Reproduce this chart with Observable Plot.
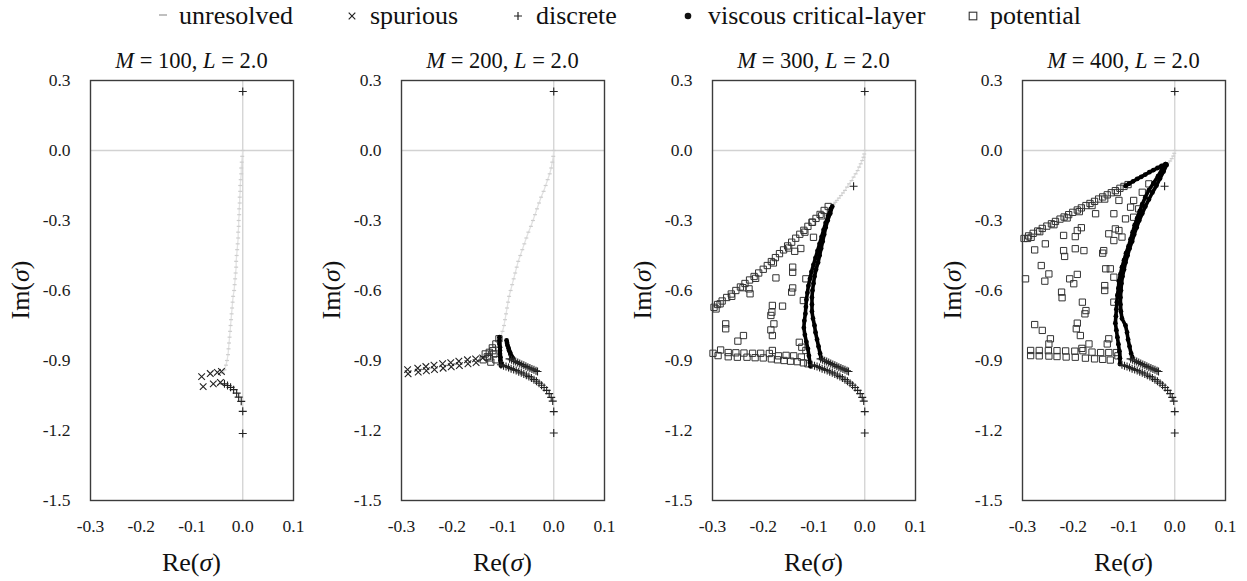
<!DOCTYPE html>
<html><head><meta charset="utf-8">
<script src="https://cdn.jsdelivr.net/npm/d3@7"></script>
<script src="https://cdn.jsdelivr.net/npm/@observablehq/plot@0.6"></script>
<style>
body{margin:0;background:#fff;font-family:"Liberation Serif","Times New Roman",serif;}
#root{position:relative;width:1247px;height:581px;overflow:hidden;background:#fff;}
.legtext{position:absolute;top:1px;font-family:"Liberation Serif","Times New Roman",serif;font-size:26px;line-height:29px;color:#111;white-space:nowrap;}
.legmark{position:absolute;top:9px;width:14px;height:14px;overflow:visible;}
</style></head><body><div id="root"></div><script>
// ---------- data ----------
const Mvalues = [100, 200, 300, 400];
const Lvalue = "2.0";
const xTicks = [-0.3, -0.2, -0.1, 0, 0.1];
const yTicks = [0.3, 0, -0.3, -0.6, -0.9, -1.2, -1.5];
const legendLabels = ["unresolved", "spurious", "discrete", "viscous critical-layer", "potential"];

// M = 100
const unresolved100 = [[0,0],[-0.001,-0.025],[-0.002,-0.05],[-0.003,-0.075],[-0.003,-0.1],[-0.004,-0.125],[-0.005,-0.15],[-0.005,-0.175],[-0.006,-0.2],[-0.006,-0.225],[-0.007,-0.25],[-0.007,-0.275],[-0.008,-0.3],[-0.008,-0.325],[-0.009,-0.35],[-0.009,-0.375],[-0.010,-0.4],[-0.011,-0.425],[-0.012,-0.45],[-0.013,-0.475],[-0.013,-0.5],[-0.014,-0.525],[-0.015,-0.55],[-0.016,-0.575],[-0.017,-0.6],[-0.019,-0.625],[-0.020,-0.65],[-0.021,-0.675],[-0.022,-0.7],[-0.023,-0.725],[-0.024,-0.75],[-0.025,-0.775],[-0.026,-0.8],[-0.027,-0.825],[-0.028,-0.85],[-0.029,-0.875],[-0.031,-0.9],[-0.033,-0.92],[-0.036,-0.94],[-0.039,-0.955]];
const spurious100 = [[-0.081,-0.969],[-0.064,-0.956],[-0.050,-0.951],[-0.042,-0.947],[-0.078,-1.012],[-0.058,-1.000],[-0.044,-0.994]];
const discrete100 = [[0,0.253],[-0.036,-1.000],[-0.030,-1.007],[-0.024,-1.015],[-0.018,-1.025],[-0.012,-1.040],[-0.008,-1.057],[-0.003,-1.075],[0,-1.118],[0,-1.213]];

// discrete branches common to M = 200, 300, 400
const discreteUpper = [[-0.087,-0.893],[-0.083,-0.897],[-0.079,-0.901],[-0.075,-0.904],[-0.071,-0.909],[-0.067,-0.913],[-0.063,-0.917],[-0.059,-0.920],[-0.055,-0.925],[-0.051,-0.929],[-0.047,-0.932],[-0.043,-0.936],[-0.039,-0.940],[-0.035,-0.944],[-0.032,-0.947]];
const discreteLower = [[0,0.253],[-0.104,-0.918],[-0.099,-0.922],[-0.094,-0.926],[-0.089,-0.930],[-0.084,-0.935],[-0.079,-0.939],[-0.074,-0.943],[-0.069,-0.948],[-0.064,-0.953],[-0.059,-0.958],[-0.054,-0.963],[-0.049,-0.969],[-0.044,-0.975],[-0.039,-0.982],[-0.034,-0.989],[-0.029,-0.997],[-0.024,-1.006],[-0.019,-1.016],[-0.014,-1.028],[-0.009,-1.042],[-0.005,-1.058],[-0.002,-1.074],[0,-1.119],[0,-1.211]];

// M = 200
const unresolved200 = [[0,0],[-0.001,-0.025],[-0.003,-0.05],[-0.005,-0.075],[-0.008,-0.1],[-0.012,-0.125],[-0.016,-0.15],[-0.020,-0.175],[-0.025,-0.2],[-0.029,-0.225],[-0.033,-0.25],[-0.037,-0.275],[-0.041,-0.3],[-0.045,-0.325],[-0.050,-0.35],[-0.054,-0.375],[-0.058,-0.4],[-0.062,-0.425],[-0.066,-0.45],[-0.070,-0.475],[-0.073,-0.5],[-0.076,-0.525],[-0.079,-0.55],[-0.082,-0.575],[-0.085,-0.6],[-0.088,-0.625],[-0.090,-0.65],[-0.092,-0.675],[-0.094,-0.7],[-0.096,-0.725],[-0.098,-0.75],[-0.101,-0.775],[-0.105,-0.8]];
const spurious200 = [[-0.288,-0.939],[-0.268,-0.933],[-0.252,-0.926],[-0.236,-0.920],[-0.219,-0.914],[-0.203,-0.909],[-0.187,-0.903],[-0.170,-0.897],[-0.154,-0.893],[-0.140,-0.889],[-0.287,-0.957],[-0.267,-0.950],[-0.251,-0.944],[-0.235,-0.939],[-0.218,-0.933],[-0.202,-0.927],[-0.186,-0.922],[-0.169,-0.914],[-0.153,-0.909]];
const potential200 = [[-0.108,-0.807],[-0.114,-0.829],[-0.121,-0.846],[-0.127,-0.865],[-0.135,-0.872],[-0.118,-0.872],[-0.139,-0.897],[-0.127,-0.889],[-0.124,-0.907],[-0.114,-0.897],[-0.131,-0.884],[-0.120,-0.858]];
const viscous200a = [[-0.107,-0.800],[-0.107,-0.814],[-0.107,-0.829],[-0.106,-0.843],[-0.106,-0.857],[-0.106,-0.872],[-0.105,-0.886],[-0.105,-0.900],[-0.104,-0.914],[-0.104,-0.922]];
const viscous200b = [[-0.093,-0.814],[-0.092,-0.825],[-0.091,-0.836],[-0.089,-0.847],[-0.088,-0.857],[-0.086,-0.866],[-0.085,-0.874],[-0.083,-0.882],[-0.081,-0.889]];

// M = 300
const unresolved300 = [[0,0],[-0.001,-0.015],[-0.0025,-0.029],[-0.005,-0.043],[-0.008,-0.057],[-0.011,-0.071],[-0.014,-0.086],[-0.018,-0.100],[-0.022,-0.114],[-0.026,-0.129],[-0.031,-0.143],[-0.035,-0.157],[-0.039,-0.171],[-0.043,-0.182],[-0.047,-0.193],[-0.051,-0.204],[-0.055,-0.214],[-0.058,-0.222],[-0.061,-0.229]];
const discreteExtra300 = [[-0.022,-0.153]];
const viscous300a = [[-0.064,-0.24],[-0.068,-0.27],[-0.073,-0.30],[-0.077,-0.33],[-0.080,-0.36],[-0.083,-0.39],[-0.086,-0.42],[-0.089,-0.45],[-0.092,-0.48],[-0.096,-0.51],[-0.099,-0.54],[-0.101,-0.57],[-0.103,-0.60],[-0.104,-0.63],[-0.104,-0.66],[-0.104,-0.69],[-0.102,-0.72],[-0.099,-0.75],[-0.097,-0.78],[-0.094,-0.81],[-0.091,-0.84],[-0.088,-0.87],[-0.086,-0.89]];
const viscous300b = [[-0.067,-0.25],[-0.072,-0.28],[-0.077,-0.31],[-0.081,-0.34],[-0.085,-0.37],[-0.089,-0.40],[-0.093,-0.43],[-0.097,-0.46],[-0.101,-0.49],[-0.105,-0.52],[-0.108,-0.55],[-0.111,-0.58],[-0.113,-0.61],[-0.115,-0.64],[-0.116,-0.67],[-0.117,-0.70],[-0.119,-0.73],[-0.120,-0.76],[-0.118,-0.79],[-0.115,-0.82],[-0.112,-0.85],[-0.110,-0.88],[-0.108,-0.91],[-0.107,-0.925]];
const potential300 = [
 [-0.072,-0.240],[-0.080,-0.257],[-0.088,-0.274],[-0.096,-0.291],[-0.104,-0.308],[-0.112,-0.325],[-0.120,-0.342],[-0.128,-0.359],[-0.136,-0.376],[-0.144,-0.393],[-0.152,-0.409],[-0.160,-0.426],[-0.168,-0.442],[-0.176,-0.459],[-0.184,-0.476],[-0.192,-0.493],[-0.200,-0.509],[-0.209,-0.525],[-0.218,-0.540],[-0.227,-0.555],[-0.236,-0.570],[-0.245,-0.585],[-0.254,-0.600],[-0.263,-0.615],[-0.272,-0.630],[-0.281,-0.645],[-0.290,-0.660],[-0.297,-0.672],
 [-0.085,-0.280],[-0.118,-0.350],[-0.150,-0.418],[-0.180,-0.482],[-0.215,-0.548],[-0.240,-0.588],[-0.262,-0.625],[-0.293,-0.679],[-0.285,-0.657],
 [-0.103,-0.307],[-0.101,-0.372],[-0.126,-0.420],[-0.138,-0.432],[-0.142,-0.500],[-0.142,-0.522],[-0.175,-0.546],[-0.116,-0.550],[-0.142,-0.589],[-0.144,-0.607],[-0.228,-0.593],[-0.226,-0.614],[-0.121,-0.643],[-0.182,-0.664],[-0.162,-0.667],[-0.183,-0.693],[-0.185,-0.707],[-0.274,-0.743],[-0.274,-0.764],[-0.179,-0.743],[-0.185,-0.769],[-0.182,-0.793],[-0.239,-0.793],[-0.250,-0.817],[-0.129,-0.822],[-0.124,-0.843],[-0.116,-0.857],
 [-0.299,-0.869],[-0.284,-0.855],[-0.269,-0.866],[-0.254,-0.867],[-0.238,-0.868],[-0.221,-0.869],[-0.205,-0.869],[-0.188,-0.870],[-0.182,-0.857],
 [-0.289,-0.879],[-0.269,-0.884],[-0.251,-0.886],[-0.232,-0.886],[-0.216,-0.888],[-0.200,-0.889],[-0.184,-0.893],[-0.172,-0.897],[-0.159,-0.900],[-0.146,-0.903],[-0.133,-0.905],[-0.121,-0.910],[-0.112,-0.914],
 [-0.170,-0.880],[-0.155,-0.878],[-0.140,-0.880],[-0.125,-0.885]
];

// M = 400
const unresolved400 = [[0,0],[-0.001,-0.012],[-0.003,-0.024],[-0.006,-0.035],[-0.009,-0.045],[-0.013,-0.053]];
const discreteExtra400 = [[-0.020,-0.153]];
const viscous400d = [[-0.018,-0.058],[-0.026,-0.066],[-0.034,-0.075],[-0.042,-0.084],[-0.050,-0.093],[-0.058,-0.103],[-0.066,-0.113],[-0.074,-0.122],[-0.082,-0.132],[-0.090,-0.142],[-0.097,-0.152]];
const viscous400a = [[-0.018,-0.058],[-0.025,-0.08],[-0.033,-0.11],[-0.042,-0.14],[-0.051,-0.17],[-0.058,-0.20],[-0.064,-0.23],[-0.069,-0.26],[-0.074,-0.29],[-0.079,-0.32],[-0.083,-0.35],[-0.087,-0.38],[-0.091,-0.41],[-0.096,-0.44],[-0.100,-0.47],[-0.104,-0.50],[-0.107,-0.53],[-0.110,-0.56],[-0.111,-0.59],[-0.113,-0.62],[-0.114,-0.65],[-0.115,-0.68],[-0.116,-0.71],[-0.117,-0.74],[-0.115,-0.77],[-0.113,-0.80],[-0.111,-0.83],[-0.109,-0.86],[-0.108,-0.89],[-0.108,-0.915]];
const viscous400b = [[-0.016,-0.062],[-0.022,-0.09],[-0.029,-0.12],[-0.036,-0.15],[-0.044,-0.18],[-0.051,-0.21],[-0.058,-0.24],[-0.064,-0.27],[-0.070,-0.30],[-0.075,-0.33],[-0.080,-0.36],[-0.084,-0.39],[-0.089,-0.42],[-0.093,-0.45],[-0.097,-0.48],[-0.100,-0.51],[-0.103,-0.54],[-0.105,-0.57],[-0.106,-0.60],[-0.107,-0.63],[-0.107,-0.66],[-0.106,-0.69],[-0.104,-0.72],[-0.097,-0.75],[-0.094,-0.78],[-0.092,-0.81],[-0.089,-0.84],[-0.086,-0.87],[-0.084,-0.885]];
const potential400 = [
 [-0.092,-0.146],[-0.100,-0.154],[-0.108,-0.162],[-0.117,-0.172],[-0.125,-0.181],[-0.133,-0.190],[-0.142,-0.199],[-0.150,-0.208],[-0.158,-0.218],[-0.167,-0.227],[-0.175,-0.236],[-0.184,-0.246],[-0.192,-0.255],[-0.201,-0.265],[-0.209,-0.275],[-0.218,-0.285],[-0.226,-0.294],[-0.235,-0.304],[-0.243,-0.314],[-0.252,-0.324],[-0.261,-0.334],[-0.270,-0.345],[-0.279,-0.355],[-0.288,-0.366],[-0.297,-0.377],
 [-0.113,-0.180],[-0.138,-0.208],[-0.163,-0.236],[-0.188,-0.262],[-0.212,-0.289],[-0.238,-0.318],[-0.266,-0.348],[-0.290,-0.377],[-0.283,-0.372],
 [-0.051,-0.143],[-0.064,-0.179],[-0.081,-0.214],[-0.087,-0.243],[-0.110,-0.214],[-0.120,-0.271],[-0.097,-0.293],[-0.081,-0.286],[-0.117,-0.336],[-0.110,-0.343],[-0.130,-0.357],[-0.120,-0.386],[-0.104,-0.371],[-0.140,-0.429],[-0.142,-0.440],[-0.179,-0.429],[-0.196,-0.421],[-0.219,-0.429],[-0.217,-0.454],[-0.276,-0.426],[-0.255,-0.400],[-0.219,-0.364],[-0.196,-0.369],[-0.192,-0.343],[-0.184,-0.331],[-0.156,-0.271],[-0.071,-0.250],
 [-0.263,-0.493],[-0.248,-0.529],[-0.294,-0.550],[-0.256,-0.560],[-0.207,-0.550],[-0.199,-0.571],[-0.192,-0.531],[-0.136,-0.507],[-0.127,-0.507],[-0.120,-0.543],[-0.138,-0.579],[-0.138,-0.600],[-0.223,-0.607],[-0.222,-0.631],[-0.182,-0.650],[-0.175,-0.686],[-0.177,-0.700],[-0.120,-0.650],
 [-0.276,-0.746],[-0.261,-0.771],[-0.192,-0.740],[-0.194,-0.764],[-0.186,-0.793],[-0.245,-0.807],[-0.248,-0.829],[-0.169,-0.829],[-0.130,-0.807],[-0.133,-0.829],
 [-0.284,-0.857],[-0.267,-0.857],[-0.249,-0.858],[-0.232,-0.858],[-0.215,-0.859],[-0.197,-0.860],[-0.181,-0.858],[-0.183,-0.848],[-0.163,-0.864],[-0.146,-0.866],[-0.130,-0.866],[-0.115,-0.866],
 [-0.284,-0.879],[-0.267,-0.880],[-0.248,-0.881],[-0.232,-0.883],[-0.214,-0.885],[-0.196,-0.886],[-0.176,-0.890],[-0.158,-0.893],[-0.142,-0.895],[-0.127,-0.898],[-0.112,-0.880]
];

const panels = [
  {M: Mvalues[0], unresolved: unresolved100, spurious: spurious100, discrete: discrete100, viscous: [], potential: []},
  {M: Mvalues[1], unresolved: unresolved200, spurious: spurious200, discrete: [...discreteLower, ...discreteUpper], viscous: [viscous200a, viscous200b], potential: potential200},
  {M: Mvalues[2], unresolved: unresolved300, spurious: [], discrete: [...discreteLower, ...discreteUpper, ...discreteExtra300], viscous: [viscous300a, viscous300b], potential: potential300},
  {M: Mvalues[3], unresolved: unresolved400, spurious: [], discrete: [...discreteLower, ...discreteUpper, ...discreteExtra400], viscous: [viscous400d, viscous400a, viscous400b], potential: potential400}
];

// ---------- layout ----------
const FONT = "'Liberation Serif', 'Times New Roman', serif";
const root = document.getElementById("root");
const panelLeft = [0, 310.7, 621.7, 932];
const legendMarkX = [163, 352, 518, 688, 973];
const legendTextX = [179, 370, 536, 708, 990];
const legendMarks = ["dash", "times", "plus", "dot", "square"];

legendLabels.forEach((lab, i) => {
  const ns = "http://www.w3.org/2000/svg";
  const s = document.createElementNS(ns, "svg");
  s.setAttribute("class", "legmark");
  s.setAttribute("viewBox", "-7 -7 14 14");
  s.style.left = (legendMarkX[i] - 7) + "px";
  const g = d3.select(s);
  const m = legendMarks[i];
  if (m === "dash") g.append("line").attr("x1", -4).attr("x2", 4).attr("y1", -1).attr("y2", -1).attr("stroke", "#c0c0c0").attr("stroke-width", 2);
  if (m === "times") g.append("path").attr("d", "M-3.3,-3.3L3.3,3.3M-3.3,3.3L3.3,-3.3").attr("stroke", "#222").attr("stroke-width", 1.2);
  if (m === "plus") g.append("path").attr("d", "M-4,0L4,0M0,-4L0,4").attr("stroke", "#222").attr("stroke-width", 1.2);
  if (m === "dot") g.append("circle").attr("r", 3.3).attr("fill", "#111");
  if (m === "square") g.append("rect").attr("x", -3.8).attr("y", -3.8).attr("width", 7.6).attr("height", 7.6).attr("fill", "none").attr("stroke", "#333").attr("stroke-width", 1.1);
  root.appendChild(s);
  const t = document.createElement("div");
  t.className = "legtext";
  t.style.left = legendTextX[i] + "px";
  t.textContent = lab;
  root.appendChild(t);
});

const dashSymbol = {draw(ctx, size) { const w = Math.sqrt(size / Math.PI) * 1.1; ctx.moveTo(-w, 0); ctx.lineTo(w, 0); }};
const fmt = d => d.toFixed(1);
const X = d => d[0], Y = d => d[1];

panels.forEach((p, i) => {
  const viscLines = p.viscous.flatMap((c, k) => c.map(d => ({re: d[0], im: d[1], k})));
  const svg = Plot.plot({
    width: 311, height: 551,
    marginTop: 50, marginBottom: 81, marginLeft: 90, marginRight: 18,
    x: {domain: [-0.3, 0.1], ticks: xTicks, tickFormat: fmt, tickSize: 0, tickPadding: 19, label: null},
    y: {domain: [-1.5, 0.3], ticks: yTicks, tickFormat: fmt, tickSize: 0, tickPadding: 20, label: null},
    style: {fontFamily: FONT, fontSize: "17.5px", color: "#1a1a1a", background: "white", overflow: "visible"},
    marks: [
      Plot.ruleX([0], {stroke: "#d2d2d2", strokeWidth: 1.3}),
      Plot.ruleY([0], {stroke: "#d2d2d2", strokeWidth: 1.3}),
      Plot.line(p.unresolved, {x: X, y: Y, stroke: "#e2e2e2", strokeWidth: 1.3}),
      Plot.dot(p.unresolved, {x: X, y: Y, symbol: dashSymbol, r: 1.8, fill: "none", stroke: "#cdcdcd", strokeWidth: 1.2}),
      Plot.dot(p.potential, {x: X, y: Y, symbol: "square2", r: 4.0, fill: "none", stroke: "#333", strokeWidth: 1}),
      Plot.line(viscLines, {x: "re", y: "im", z: "k", stroke: "#000", strokeWidth: 3.6}),
      Plot.dot(viscLines, {x: "re", y: "im", r: 2.4, fill: "#000", stroke: "none"}),
      Plot.dot(p.spurious, {x: X, y: Y, symbol: "times", r: 3.1, fill: "none", stroke: "#222", strokeWidth: 1.1}),
      Plot.dot(p.discrete, {x: X, y: Y, symbol: "plus", r: 2.7, fill: "none", stroke: "#222", strokeWidth: 1.1}),
      Plot.frame({stroke: "#3c3c3c", strokeWidth: 1.4})
    ]
  });
  svg.style.position = "absolute";
  svg.style.top = "30px";
  svg.style.left = panelLeft[i] + "px";
  const s = d3.select(svg);
  s.selectAll("text").style("font-family", FONT);
  const cx = 90 + 203 / 2;
  const title = s.append("text").attr("x", cx).attr("y", 38).attr("text-anchor", "middle")
    .style("font-family", FONT).attr("font-size", "22.5px").attr("fill", "#111").style("white-space", "pre");
  title.append("tspan").attr("font-style", "italic").text("M");
  title.append("tspan").text(` = ${p.M}, `);
  title.append("tspan").attr("font-style", "italic").text("L");
  title.append("tspan").text(` = ${Lvalue}`);
  const xl = s.append("text").attr("x", cx).attr("y", 541).attr("text-anchor", "middle")
    .style("font-family", FONT).attr("font-size", "26px").attr("fill", "#111");
  xl.append("tspan").text("Re(");
  xl.append("tspan").attr("font-style", "italic").text("σ");
  xl.append("tspan").text(")");
  const yl = s.append("text").attr("transform", `translate(29,${50 + 210}) rotate(-90)`).attr("text-anchor", "middle")
    .style("font-family", FONT).attr("font-size", "26px").attr("fill", "#111");
  yl.append("tspan").text("Im(");
  yl.append("tspan").attr("font-style", "italic").text("σ");
  yl.append("tspan").text(")");
  root.appendChild(svg);
});
</script></body></html>
